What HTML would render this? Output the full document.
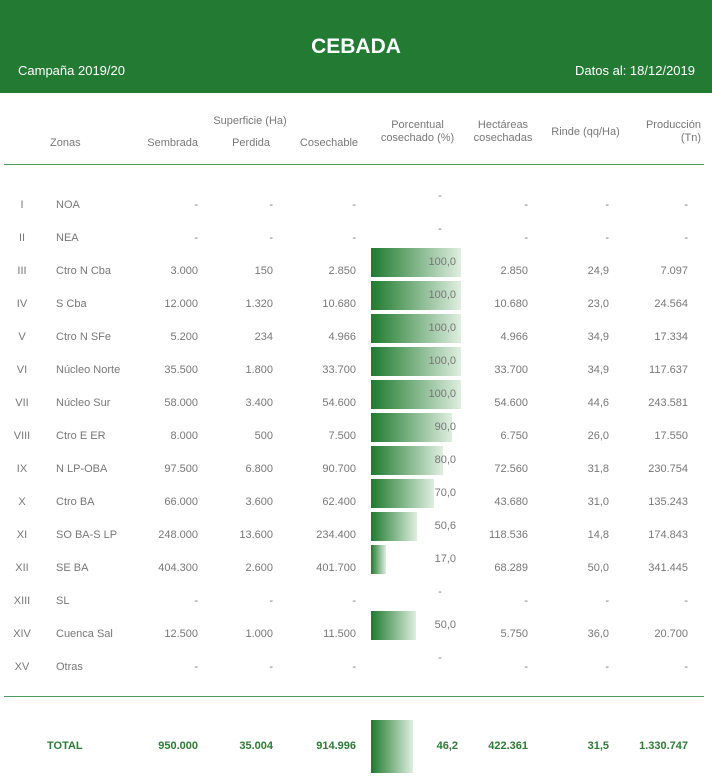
<!DOCTYPE html>
<html><head><meta charset="utf-8"><style>
body{margin:0;width:712px;height:777px;background:#fff;font-family:"Liberation Sans",sans-serif;position:relative;overflow:hidden}
.hd{position:absolute;left:0;top:0;width:712px;height:93px;background:#237a33;color:#fff}
.t{position:absolute;font-size:11px;color:#777;white-space:nowrap;line-height:13px}
.r{text-align:right}
.c{text-align:center}
.bar{position:absolute;left:371px;height:29px;background:linear-gradient(to right,#1f7a2e,#dfeee0)}
.hl{position:absolute;left:4px;width:700px;height:1px;background:#4e9a5a}
.g{color:#2d7a35;font-weight:bold}
</style></head><body>
<div class="hd">
<div style="position:absolute;left:0;width:712px;top:35px;text-align:center;font-size:21px;font-weight:bold">CEBADA</div>
<div style="position:absolute;left:18px;top:63px;font-size:13px">Campaña 2019/20</div>
<div style="position:absolute;right:17px;top:63px;font-size:13px">Datos al: 18/12/2019</div>
</div>
<div class="t c" style="left:200px;width:100px;top:115px">Superficie (Ha)</div>
<div class="t" style="left:50px;top:137px">Zonas</div>
<div class="t r" style="left:120px;width:78px;top:137px">Sembrada</div>
<div class="t r" style="left:200px;width:70px;top:137px">Perdida</div>
<div class="t r" style="left:270px;width:88px;top:137px">Cosechable</div>
<div class="t c" style="left:370px;width:95px;top:119px">Porcentual<br>cosechado (%)</div>
<div class="t c" style="left:468px;width:70px;top:119px">Hectáreas<br>cosechadas</div>
<div class="t c" style="left:548px;width:75px;top:126px">Rinde (qq/Ha)</div>
<div class="t r" style="left:620px;width:81px;top:119px">Producción<br>(Tn)</div>
<div class="hl" style="top:164px"></div>
<div class="hl" style="top:696px"></div>
<div id="rows"></div>
<div class="bar" style="top:720px;height:53px;width:42px"></div>
<div class="t g" style="left:47px;top:740px">TOTAL</div>
<div class="t r g" style="left:120px;width:78px;top:740px">950.000</div>
<div class="t r g" style="left:200px;width:73px;top:740px">35.004</div>
<div class="t r g" style="left:270px;width:86px;top:740px">914.996</div>
<div class="t r g" style="left:400px;width:58px;top:740px">46,2</div>
<div class="t r g" style="left:460px;width:68px;top:740px">422.361</div>
<div class="t r g" style="left:540px;width:69px;top:740px">31,5</div>
<div class="t r g" style="left:610px;width:78px;top:740px">1.330.747</div>
<script>
var d=[["I","NOA","-","-","-",null,"-","-","-"],["II","NEA","-","-","-",null,"-","-","-"],
["III","Ctro N Cba","3.000","150","2.850",100,"2.850","24,9","7.097"],
["IV","S Cba","12.000","1.320","10.680",100,"10.680","23,0","24.564"],
["V","Ctro N SFe","5.200","234","4.966",100,"4.966","34,9","17.334"],
["VI","Núcleo Norte","35.500","1.800","33.700",100,"33.700","34,9","117.637"],
["VII","Núcleo Sur","58.000","3.400","54.600",100,"54.600","44,6","243.581"],
["VIII","Ctro E ER","8.000","500","7.500",90,"6.750","26,0","17.550"],
["IX","N LP-OBA","97.500","6.800","90.700",80,"72.560","31,8","230.754"],
["X","Ctro BA","66.000","3.600","62.400",70,"43.680","31,0","135.243"],
["XI","SO BA-S LP","248.000","13.600","234.400",50.6,"118.536","14,8","174.843"],
["XII","SE BA","404.300","2.600","401.700",17,"68.289","50,0","341.445"],
["XIII","SL","-","-","-",null,"-","-","-"],
["XIV","Cuenca Sal","12.500","1.000","11.500",50,"5.750","36,0","20.700"],
["XV","Otras","-","-","-",null,"-","-","-"]];
var h="";d.forEach(function(r,i){var y=204+i*33,ty=y-5;
h+='<div class="t c" style="left:7px;width:30px;top:'+ty+'px">'+r[0]+'</div>';
h+='<div class="t" style="left:56px;top:'+ty+'px">'+r[1]+'</div>';
h+='<div class="t r" style="left:120px;width:78px;top:'+ty+'px">'+r[2]+'</div>';
h+='<div class="t r" style="left:200px;width:73px;top:'+ty+'px">'+r[3]+'</div>';
h+='<div class="t r" style="left:270px;width:86px;top:'+ty+'px">'+r[4]+'</div>';
if(r[5]!==null){h+='<div class="bar" style="top:'+(y-22)+'px;width:'+Math.round(r[5]*0.9)+'px"></div>';
h+='<div class="t r" style="left:400px;width:56px;top:'+(ty-9)+'px">'+r[5].toFixed(1).replace(".",",")+'</div>';}
else h+='<div class="t c" style="left:420px;width:40px;top:'+(ty-9)+'px">-</div>';
h+='<div class="t r" style="left:460px;width:68px;top:'+ty+'px">'+r[6]+'</div>';
h+='<div class="t r" style="left:540px;width:69px;top:'+ty+'px">'+r[7]+'</div>';
h+='<div class="t r" style="left:610px;width:78px;top:'+ty+'px">'+r[8]+'</div>';});
document.getElementById("rows").innerHTML=h;
</script>
</body></html>
